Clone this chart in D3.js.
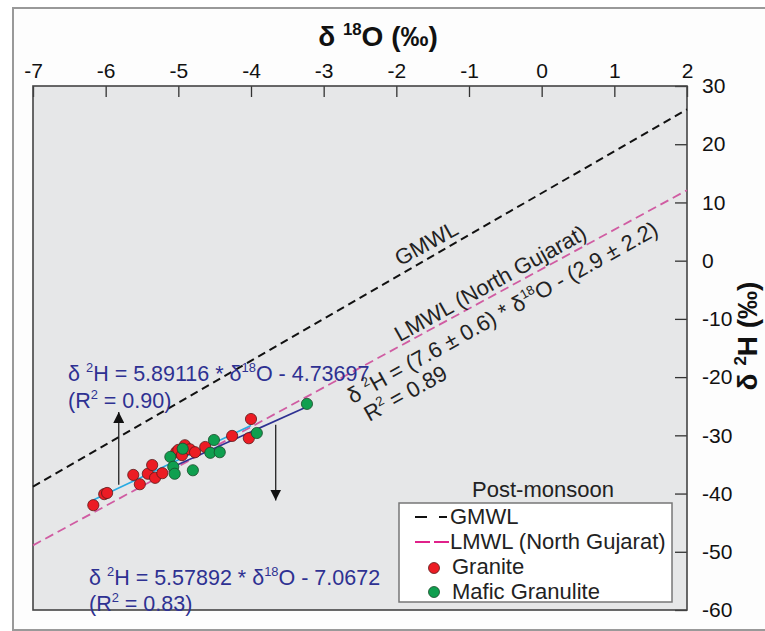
<!DOCTYPE html>
<html>
<head>
<meta charset="utf-8">
<script src="https://cdn.jsdelivr.net/npm/d3@7"></script>
<style>
  body { margin: 0; background: #fff; }
  svg { display: block; font-family: Arial, "Liberation Sans", sans-serif; }
</style>
</head>
<body>
<div id="chart-container"></div>
<script>

// tick labels
const xTicks = [-7, -6, -5, -4, -3, -2, -1, 0, 1, 2];
const yTicks = [30, 20, 10, 0, -10, -20, -30, -40, -50, -60];

// Granite samples (δ18O, δ2H)
const graniteO = [-6.17, -6.02, -5.98, -5.62, -5.53, -5.42, -5.36, -5.32, -5.22, -5.03, -5.00, -4.95, -4.91, -4.84, -4.77, -4.63, -4.26, -4.03, -4.00];
const graniteH = [-42.0, -40.1, -39.9, -36.8, -38.4, -36.6, -35.1, -37.3, -36.5, -32.9, -32.5, -33.4, -31.7, -32.4, -32.9, -32.0, -30.1, -30.5, -27.2];

// Mafic Granulite samples
const maficO = [-5.11, -5.07, -5.05, -4.94, -4.80, -4.56, -4.51, -4.43, -3.92, -3.23];
const maficH = [-33.7, -35.4, -36.6, -32.3, -36.0, -33.0, -30.8, -32.9, -29.6, -24.6];

// reference lines (end points)
const gmwlO = [-7, 2];
const gmwlH = [-38.8, 26.0];
const lmwlO = [-7, 2];
const lmwlH = [-48.9, 12.1];

// regression lines (end points)
const fitAllO = [-6.17, -4.00];
const fitAllH = [-41.1, -28.3];
const fitMaficO = [-5.11, -3.23];
const fitMaficH = [-35.6, -25.1];

const margin = { top: 86, right: 78, bottom: 21, left: 33 };
const width = 765 - margin.left - margin.right;
const height = 631 - margin.top - margin.bottom;

const x = d3.scaleLinear().domain([-7, 2]).range([0, width]);
const y = d3.scaleLinear().domain([-60, 30]).range([height, 0]);

const root = d3.select("#chart-container")
  .append("svg")
    .attr("width", 765)
    .attr("height", 631);

// outer frame
root.append("rect")
  .attr("x", 13).attr("y", 8)
  .attr("width", 770).attr("height", 622)
  .attr("fill", "#fdfdfd")
  .attr("stroke", "#999")
  .attr("stroke-width", 2);

const svg = root.append("g")
  .attr("transform", `translate(${margin.left},${margin.top})`);

svg.append("rect")
  .attr("width", width)
  .attr("height", height)
  .attr("fill", "#e6e7e8");

// axes
const xAxis = svg.append("g")
  .call(d3.axisTop(x)
    .tickValues(xTicks)
    .tickFormat(d => String(d))
    .tickSizeInner(-11)
    .tickSizeOuter(0)
    .tickPadding(8));

const yAxis = svg.append("g")
  .attr("transform", `translate(${width},0)`)
  .call(d3.axisRight(y)
    .tickValues(yTicks)
    .tickFormat(d => String(d))
    .tickSizeInner(-12)
    .tickSizeOuter(0)
    .tickPadding(15));

[xAxis, yAxis].forEach(a => {
  a.select(".domain").remove();
  a.selectAll(".tick line").attr("stroke", "#333").attr("stroke-width", 1.3);
  a.selectAll(".tick text")
    .attr("fill", "#111")
    .style("font-size", "21px")
    .style("font-family", "Arial, 'Liberation Sans', sans-serif");
});

svg.append("rect")
  .attr("width", width)
  .attr("height", height)
  .attr("fill", "none")
  .attr("stroke", "#444")
  .attr("stroke-width", 1.6);

// reference lines
const line = d3.line()
  .x(d => x(d[0]))
  .y(d => y(d[1]));

svg.append("path")
  .datum(d3.zip(gmwlO, gmwlH))
  .attr("fill", "none")
  .attr("stroke", "#111")
  .attr("stroke-width", 2)
  .attr("stroke-dasharray", "8,5")
  .attr("d", line);

svg.append("path")
  .datum(d3.zip(lmwlO, lmwlH))
  .attr("fill", "none")
  .attr("stroke", "#d05ca2")
  .attr("stroke-width", 1.8)
  .attr("stroke-dasharray", "9,5")
  .attr("d", line);

svg.append("path")
  .datum(d3.zip(fitAllO, fitAllH))
  .attr("fill", "none")
  .attr("stroke", "#29abe2")
  .attr("stroke-width", 1.6)
  .attr("d", line);

svg.append("path")
  .datum(d3.zip(fitMaficO, fitMaficH))
  .attr("fill", "none")
  .attr("stroke", "#2e3192")
  .attr("stroke-width", 1.6)
  .attr("d", line);

// points
svg.append("g")
  .selectAll("circle")
  .data(d3.zip(graniteO, graniteH))
  .join("circle")
    .attr("cx", d => x(d[0]))
    .attr("cy", d => y(d[1]))
    .attr("r", 5.6)
    .attr("fill", "#ec1c24")
    .attr("stroke", "#5a1a1a")
    .attr("stroke-width", 0.8);

svg.append("g")
  .selectAll("circle")
  .data(d3.zip(maficO, maficH))
  .join("circle")
    .attr("cx", d => x(d[0]))
    .attr("cy", d => y(d[1]))
    .attr("r", 5.6)
    .attr("fill", "#0f9f4f")
    .attr("stroke", "#1a4a2a")
    .attr("stroke-width", 0.8);

// arrows
const defs = root.append("defs");
defs.append("marker")
  .attr("id", "head")
  .attr("viewBox", "0 0 10 10")
  .attr("refX", 10).attr("refY", 5)
  .attr("markerWidth", 11).attr("markerHeight", 11)
  .attr("markerUnits", "userSpaceOnUse")
  .attr("orient", "auto")
  .append("path")
    .attr("d", "M0,0 L10,5 L0,10 Z")
    .attr("fill", "#111");

svg.append("line")
  .attr("x1", x(-5.82)).attr("x2", x(-5.82))
  .attr("y1", y(-38.5)).attr("y2", y(-26.0))
  .attr("stroke", "#222").attr("stroke-width", 1.3)
  .attr("marker-end", "url(#head)");

svg.append("line")
  .attr("x1", x(-3.66)).attr("x2", x(-3.66))
  .attr("y1", y(-28.2)).attr("y2", y(-41.2))
  .attr("stroke", "#222").attr("stroke-width", 1.3)
  .attr("marker-end", "url(#head)");

// text with superscripts: parts = [[text, isSup], ...]
function richText(sel, parts, size) {
  const shift = size * 0.4;
  let raised = false;
  parts.forEach(p => {
    const t = sel.append("tspan").text(p[0]);
    if (p[1]) {
      t.attr("dy", -shift).style("font-size", (size * 0.6) + "px");
      raised = true;
    } else if (raised) {
      t.attr("dy", shift);
      raised = false;
    }
  });
}

// axis titles
const xTitle = root.append("text")
  .attr("x", 378).attr("y", 46)
  .attr("text-anchor", "middle")
  .style("font-size", "28px").style("font-weight", "bold")
  .attr("fill", "#111");
richText(xTitle, [["δ ", false], ["18", true], ["O (‰)", false]], 28);

const yTitle = root.append("text")
  .attr("transform", "translate(757,336) rotate(-90)")
  .attr("text-anchor", "middle")
  .style("font-size", "28px").style("font-weight", "bold")
  .attr("fill", "#111");
richText(yTitle, [["δ ", false], ["2", true], ["H (‰)", false]], 28);

// regression equations
const blue = "#2e3192";
const fs = 21.5;
const eq1 = root.append("text").attr("x", 68).attr("y", 381)
  .style("font-size", fs + "px").attr("fill", blue);
richText(eq1, [["δ ", false], ["2", true], ["H = 5.89116 * δ", false], ["18", true], ["O - 4.73697", false]], fs);
const r1 = root.append("text").attr("x", 68).attr("y", 408)
  .style("font-size", fs + "px").attr("fill", blue);
richText(r1, [["(R", false], ["2", true], [" = 0.90)", false]], fs);

const eq2 = root.append("text").attr("x", 89).attr("y", 585)
  .style("font-size", fs + "px").attr("fill", blue);
richText(eq2, [["δ ", false], ["2", true], ["H = 5.57892 * δ", false], ["18", true], ["O - 7.0672", false]], fs);
const r2 = root.append("text").attr("x", 89).attr("y", 611)
  .style("font-size", fs + "px").attr("fill", blue);
richText(r2, [["(R", false], ["2", true], [" = 0.83)", false]], fs);

// rotated line labels
const ang = -29;
root.append("text")
  .attr("transform", `translate(430,250) rotate(${ang})`)
  .attr("text-anchor", "middle")
  .style("font-size", "22px").attr("fill", "#222")
  .text("GMWL");

root.append("text")
  .attr("transform", `translate(494,290) rotate(${ang})`)
  .attr("text-anchor", "middle")
  .style("font-size", "22px").attr("fill", "#222")
  .text("LMWL (North Gujarat)");

const lm = root.append("text")
  .attr("transform", `translate(506,319) rotate(${ang})`)
  .attr("text-anchor", "middle")
  .style("font-size", "22px").attr("fill", "#222");
richText(lm, [["δ ", false], ["2", true], ["H = (7.6 ± 0.6) * δ", false], ["18", true], ["O - (2.9 ± 2.2)", false]], 22);

const lr = root.append("text")
  .attr("transform", `translate(409,400) rotate(${ang})`)
  .attr("text-anchor", "middle")
  .style("font-size", "22px").attr("fill", "#222");
richText(lr, [["R", false], ["2", true], [" = 0.89", false]], 22);

// legend
root.append("text")
  .attr("x", 543).attr("y", 497)
  .attr("text-anchor", "middle")
  .style("font-size", "22px").attr("fill", "#222")
  .text("Post-monsoon");

const lg = root.append("g").attr("transform", "translate(399,503)");
lg.append("rect")
  .attr("width", 273).attr("height", 99)
  .attr("fill", "#fff")
  .attr("stroke", "#777")
  .attr("stroke-width", 1.5);

lg.append("line")
  .attr("x1", 16).attr("x2", 49).attr("y1", 14).attr("y2", 14)
  .attr("stroke", "#111").attr("stroke-width", 2.2)
  .attr("stroke-dasharray", "12,12,8");
lg.append("line")
  .attr("x1", 16).attr("x2", 50).attr("y1", 39).attr("y2", 39)
  .attr("stroke", "#e0218a").attr("stroke-width", 2.2)
  .attr("stroke-dasharray", "15,4");
lg.append("circle").attr("cx", 35).attr("cy", 65).attr("r", 5.5)
  .attr("fill", "#ec1c24").attr("stroke", "#5a1a1a").attr("stroke-width", 0.8);
lg.append("circle").attr("cx", 35).attr("cy", 89).attr("r", 5.5)
  .attr("fill", "#0f9f4f").attr("stroke", "#1a4a2a").attr("stroke-width", 0.8);

const legendLabels = ["GMWL", "LMWL (North Gujarat)", "Granite", "Mafic Granulite"];
lg.selectAll("text.lab")
  .data(legendLabels)
  .join("text")
    .attr("class", "lab")
    .attr("x", (d, i) => i < 2 ? 51 : 53)
    .attr("y", (d, i) => 21 + i * 25)
    .style("font-size", "22px")
    .attr("fill", "#222")
    .text(d => d);

</script>
</body>
</html>
